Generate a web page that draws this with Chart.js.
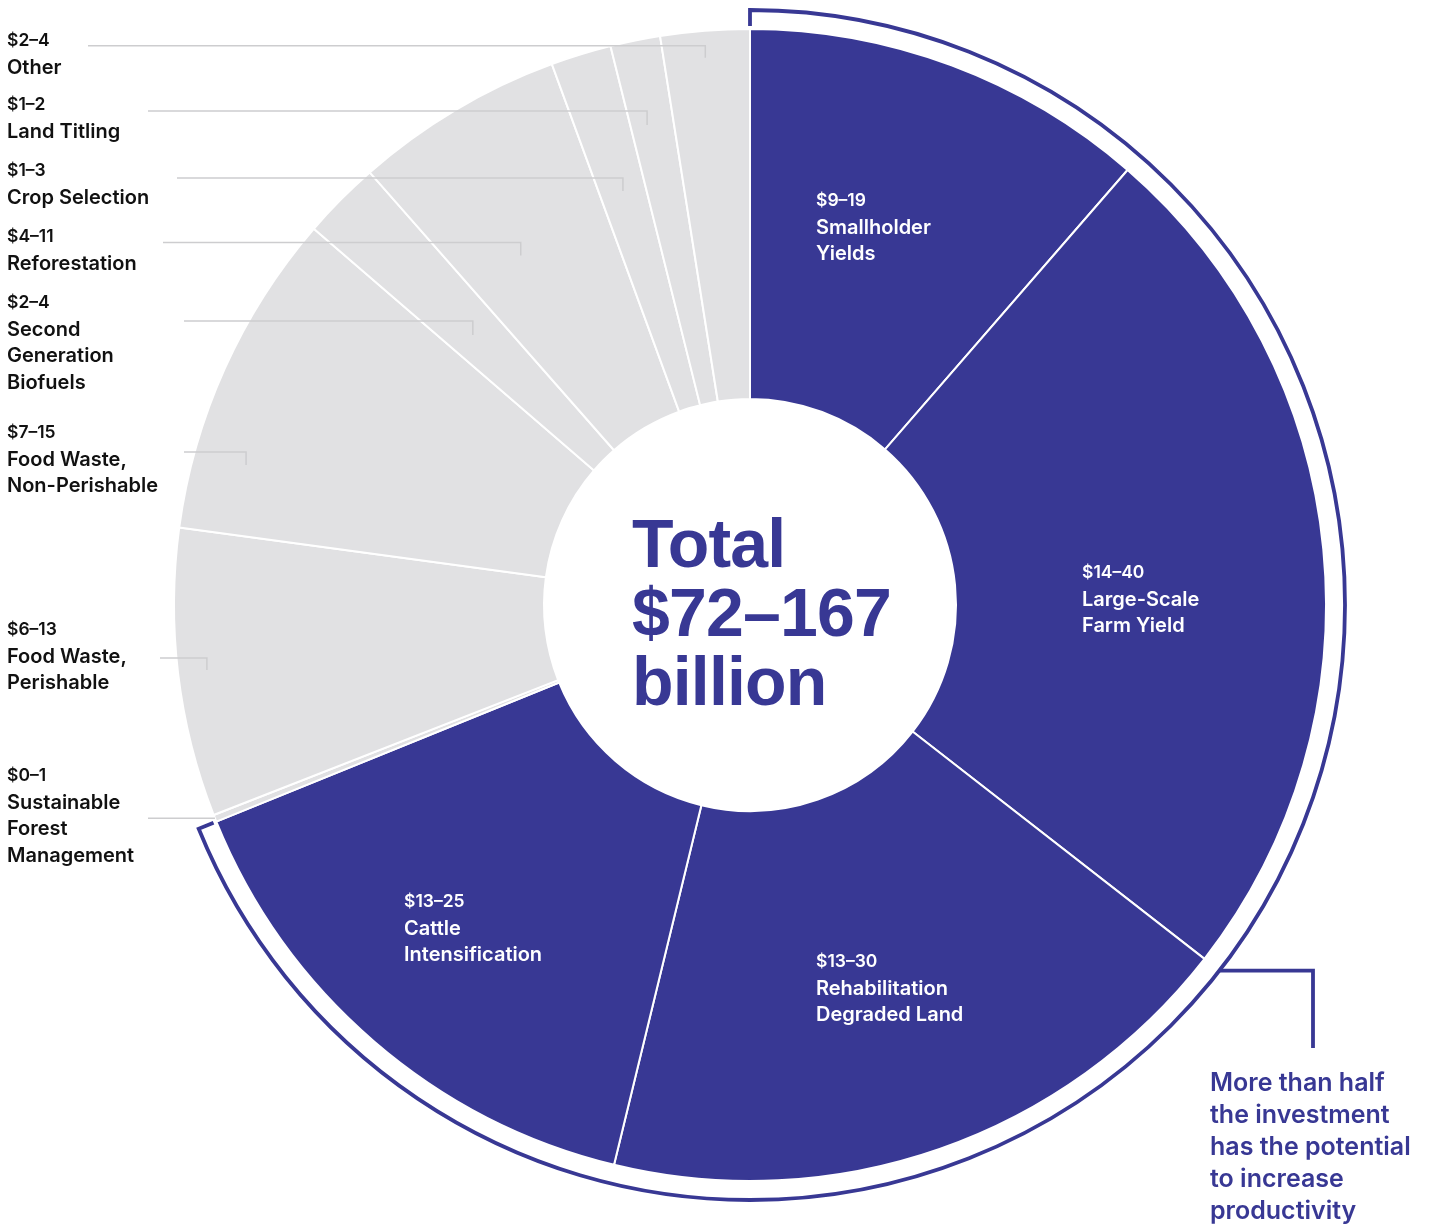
<!DOCTYPE html>
<html>
<head>
<meta charset="utf-8">
<script src="https://cdn.jsdelivr.net/npm/chart.js@4"></script>
<style>
  html, body { margin: 0; padding: 0; background: #fff; }
  #wrap { position: relative; width: 1433px; height: 1228px; }
</style>
</head>
<body>
<div id="wrap"><canvas id="invest-chart"></canvas></div>
<script>
// Slices, clockwise from 12 o'clock
const categories = [
  ["Smallholder", "Yields"],
  ["Large-Scale", "Farm Yield"],
  ["Rehabilitation", "Degraded Land"],
  ["Cattle", "Intensification"],
  ["Sustainable", "Forest", "Management"],
  ["Food Waste,", "Perishable"],
  ["Food Waste,", "Non-Perishable"],
  ["Second", "Generation", "Biofuels"],
  ["Reforestation"],
  ["Crop Selection"],
  ["Land Titling"],
  ["Other"],
];
const ranges = ["$9–19", "$14–40", "$13–30", "$13–25", "$0–1", "$6–13", "$7–15", "$2–4", "$4–11", "$1–3", "$1–2", "$2–4"];
// share of the ring (%)
const shares = [11.4, 24.2, 18.3, 15.1, 0.2, 8.1, 9.2, 2.2, 5.9, 1.7, 1.4, 2.5];
// true = productivity investment (blue)
const productive = [true, true, true, true, false, false, false, false, false, false, false, false];
const totalText = ["Total", "$72–167", "billion"];
const noteText = ["More than half", "the investment", "has the potential", "to increase", "productivity"];

const BLUE = "#383894";
const GREY = "#e1e1e3";
const FONT = "Inter, 'Liberation Sans', sans-serif";

// Layout for labels (placement only)
// inner labels: offset from centre
const innerPos = { 0: [66, -404], 1: [332, -32], 2: [66, 357], 3: [-346, 297] };
// outside labels: first-line y, leader start x, leader radius, position in slice, tick length
const outerPos = {
  11: { y: 41, x0: 88, r: 549, f: 0.48, tick: 12 },
  10: { y: 105, x0: 148, r: 491, f: 0.38, tick: 14 },
  9: { y: 171, x0: 177, r: 433, f: 0.5, tick: 13 },
  8: { y: 237, x0: 163, r: 418, f: 0.38, tick: 13 },
  7: { y: 303, x0: 184, r: 387, f: 0.44, tick: 14 },
  6: { y: 433, x0: 184, r: 523, f: 0.236, tick: 13 },
  5: { y: 630, x0: 160, r: 547, f: 0.5, tick: 12 },
  4: { y: 776, x0: 148, r: 576, f: 0.5, tick: 0 },
};

function drawLabel(c, x, y, range, lines, color) {
  c.fillStyle = color;
  c.textAlign = "left";
  c.textBaseline = "middle";
  c.font = "600 17.5px " + FONT;
  c.fillText(range, x, y);
  c.font = "600 20px " + FONT;
  lines.forEach((l, i) => c.fillText(l, x, y + 26.5 * (i + 1)));
}

const annotations = {
  id: "annotations",
  afterDraw(chart) {
    const c = chart.ctx;
    const arcs = chart.getDatasetMeta(0).data;
    const cx = arcs[0].x, cy = arcs[0].y;
    const pt = (a, r) => [cx + r * Math.cos(a), cy + r * Math.sin(a)];
    c.save();

    // leader lines + outside labels
    c.strokeStyle = "#cdcdcf";
    c.lineWidth = 1.5;
    Object.keys(outerPos).forEach((k) => {
      const o = outerPos[k];
      const arc = arcs[k];
      const a = arc.startAngle + (arc.endAngle - arc.startAngle) * o.f;
      const [ex, ey] = pt(a, o.r);
      const ly = ey - o.tick;
      c.beginPath();
      c.moveTo(o.x0, ly);
      c.lineTo(ex, ly);
      c.lineTo(ex, ey);
      c.stroke();
      drawLabel(c, 7, o.y, ranges[k], categories[k], "#111");
    });

    // inner labels
    Object.keys(innerPos).forEach((k) => {
      const [dx, dy] = innerPos[k];
      drawLabel(c, cx + dx, cy + dy, ranges[k], categories[k], "#fff");
    });

    // centre total
    c.fillStyle = BLUE;
    c.font = "bold 68px 'Liberation Sans', Arial, sans-serif";
    c.letterSpacing = "-0.8px";
    c.textBaseline = "alphabetic";
    totalText.forEach((t, i) => c.fillText(t, cx - 118, 567 + i * 69));
    c.letterSpacing = "0px";

    // bracket round the productive slices
    const idx = productive.map((p, i) => (p ? i : -1)).filter((i) => i >= 0);
    const a0 = arcs[idx[0]].startAngle;
    const a1 = arcs[idx[idx.length - 1]].endAngle;
    const R = 595;
    c.strokeStyle = BLUE;
    c.lineWidth = 3.8;
    c.beginPath();
    c.moveTo(...pt(a0, 579));
    c.lineTo(...pt(a0, R));
    c.arc(cx, cy, R, a0, a1);
    c.lineTo(...pt(a1, 579));
    c.stroke();

    // connector to the note
    const [bx, by] = pt(arcs[1].endAngle, R);
    c.beginPath();
    c.moveTo(bx, by);
    c.lineTo(1313, by);
    c.lineTo(1313, 1048);
    c.stroke();

    c.fillStyle = BLUE;
    c.font = "600 25px " + FONT;
    c.textBaseline = "middle";
    noteText.forEach((t, i) => c.fillText(t, 1210, 1083 + i * 32));
    c.restore();
  },
};

const ctx = document.getElementById("invest-chart").getContext("2d");
const chart = new Chart(ctx, {
  type: "doughnut",
  data: {
    labels: categories.map((c) => c.join(" ")),
    datasets: [
      {
        data: shares,
        backgroundColor: productive.map((p) => (p ? BLUE : GREY)),
        borderColor: "#ffffff",
        borderWidth: 2,
        hoverOffset: 0,
      },
    ],
  },
  options: {
    responsive: true,
    maintainAspectRatio: false,
    animation: false,
    cutout: 206,
    layout: { padding: { left: 173, right: 106, top: 28, bottom: 46 } },
    plugins: { legend: { display: false }, tooltip: { enabled: false } },
  },
  plugins: [annotations],
});
</script>
</body>
</html>
